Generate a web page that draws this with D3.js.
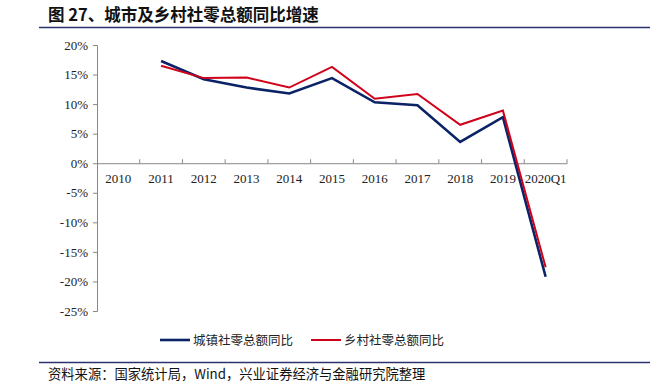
<!DOCTYPE html>
<html>
<head>
<meta charset="utf-8">
<script src="https://cdn.jsdelivr.net/npm/d3@7"></script>
<style>
  body { margin: 0; background: #fff; }
  svg { display: block; }
</style>
</head>
<body>
<script>
// Data
const categories = ["2010", "2011", "2012", "2013", "2014", "2015", "2016", "2017", "2018", "2019", "2020Q1"];
const urban = [null, 17.3, 14.2, 12.8, 11.8, 14.4, 10.3, 9.8, 3.6, 7.8, -19.2];
const rural = [null, 16.5, 14.4, 14.5, 12.8, 16.3, 10.9, 11.7, 6.5, 8.9, -17.6];
const yTicks = [20, 15, 10, 5, 0, -5, -10, -15, -20, -25];
const seriesNames = ["城镇社零总额同比", "乡村社零总额同比"];
const colors = ["#0b2366", "#d0021b"];

const W = 662, H = 387;
const plot = { left: 97, right: 567, top: 45, bottom: 311 };
const serif = "'Liberation Serif', 'Times New Roman', serif";
const cjk = "'Noto Sans CJK SC', sans-serif";

const svg = d3.select("body").append("svg")
    .attr("width", W)
    .attr("height", H);

// Title and rules
svg.append("text")
    .attr("x", 48).attr("y", 21)
    .style("font-family", cjk)
    .style("font-size", "16.5px")
    .style("font-weight", "bold")
    .attr("fill", "#111")
    .text("图 27、城市及乡村社零总额同比增速");

svg.append("line")
    .attr("x1", 39).attr("x2", 650).attr("y1", 27.5).attr("y2", 27.5)
    .attr("stroke", "#2c3170").attr("stroke-width", 1.5);

svg.append("line")
    .attr("x1", 39).attr("x2", 650).attr("y1", 362.5).attr("y2", 362.5)
    .attr("stroke", "#2c3170").attr("stroke-width", 1.5);

svg.append("text")
    .attr("x", 48).attr("y", 379)
    .style("font-family", cjk)
    .style("font-size", "13.3px")
    .attr("fill", "#111")
    .text("资料来源：国家统计局，Wind，兴业证券经济与金融研究院整理");

// Scales
const x = d3.scaleBand()
    .domain(categories)
    .range([plot.left, plot.right]);

const y = d3.scaleLinear()
    .domain([-25, 20])
    .range([plot.bottom, plot.top]);

// Y axis
const yAxis = svg.append("g")
    .attr("transform", `translate(${plot.left},0)`)
    .call(d3.axisLeft(y).tickValues(yTicks).tickSize(4).tickSizeOuter(4)
        .tickFormat(d => d + "%"));

yAxis.selectAll("text")
    .style("font-family", serif)
    .style("font-size", "13px")
    .attr("fill", "#222")
    .attr("x", -9);

// X axis at zero
const xAxis = svg.append("g")
    .attr("transform", `translate(0,${y(0)})`)
    .call(d3.axisBottom(x).tickSizeInner(0).tickSizeOuter(0));

xAxis.selectAll("text")
    .style("font-family", serif)
    .style("font-size", "13px")
    .attr("fill", "#222")
    .attr("dy", "0")
    .attr("y", 20);

// tick marks at band boundaries, pointing up
const bounds = categories.map(c => x(c) + x.bandwidth());
svg.append("g")
    .selectAll("line")
    .data(bounds)
    .join("line")
    .attr("x1", d => d).attr("x2", d => d)
    .attr("y1", y(0)).attr("y2", y(0) - 4)
    .attr("stroke", "#888");

svg.selectAll(".domain").attr("stroke", "#888");
yAxis.selectAll(".tick line").attr("stroke", "#888");

// Lines
const line = d3.line()
    .defined(d => d.v != null)
    .x(d => x(d.c) + x.bandwidth() / 2)
    .y(d => y(d.v));

[urban, rural].forEach((vals, i) => {
    svg.append("path")
        .datum(categories.map((c, j) => ({ c: c, v: vals[j] })))
        .attr("fill", "none")
        .attr("stroke", colors[i])
        .attr("stroke-width", i === 0 ? 2.6 : 2)
        .attr("stroke-linejoin", "miter")
        .attr("d", line);
});

// Legend
const legendX = [160, 311];
seriesNames.forEach((name, i) => {
    const g = svg.append("g").attr("transform", `translate(${legendX[i]},340)`);
    g.append("line")
        .attr("x1", 0).attr("x2", 30)
        .attr("stroke", colors[i])
        .attr("stroke-width", i === 0 ? 2.6 : 2);
    g.append("text")
        .attr("x", 33).attr("y", 4.5)
        .style("font-family", cjk)
        .style("font-size", "12.5px")
        .attr("fill", "#222")
        .text(name);
});
</script>
</body>
</html>
